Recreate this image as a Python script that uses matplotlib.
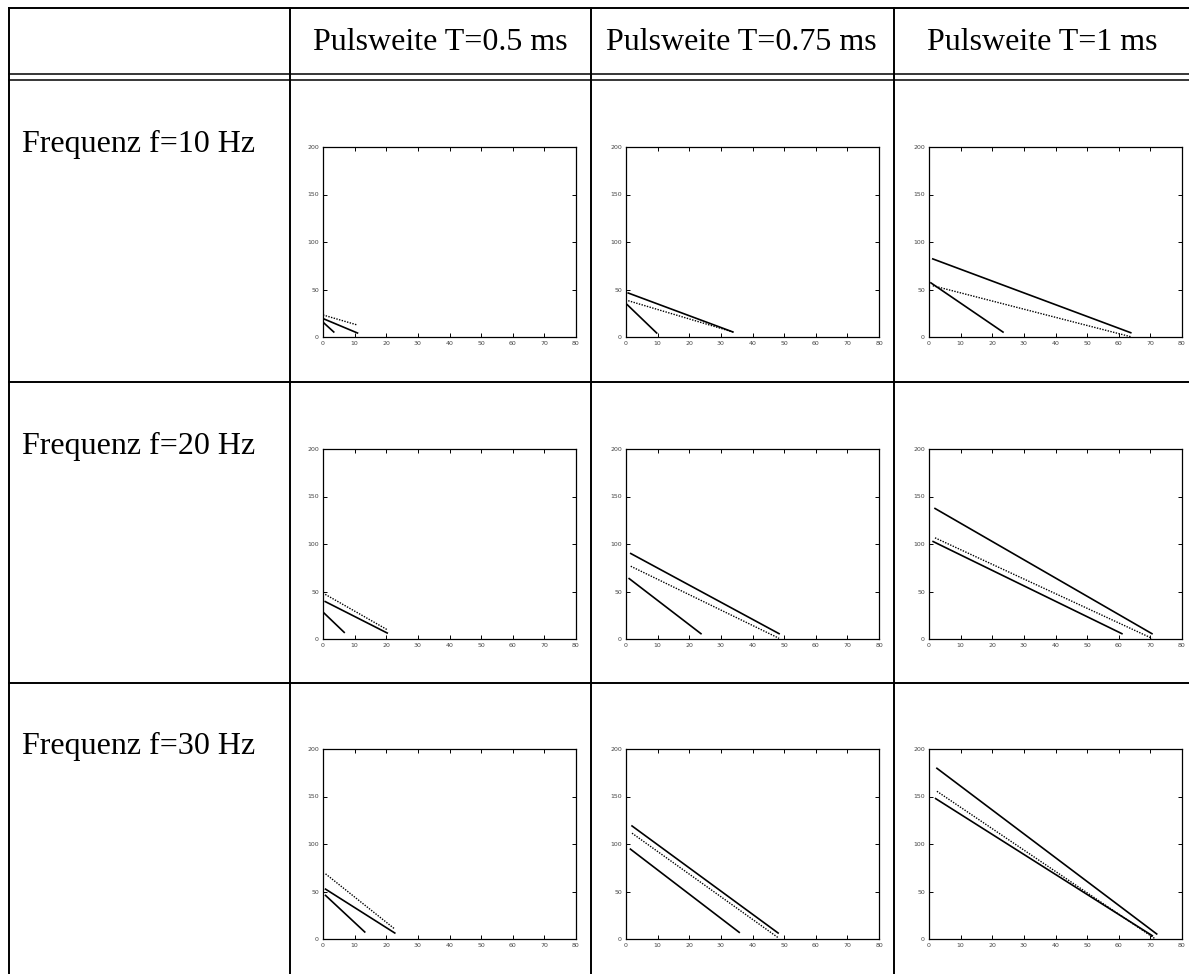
import matplotlib
matplotlib.use("Agg")
import matplotlib.pyplot as plt
from matplotlib.lines import Line2D

W, H = 1189, 974

# table headings
pulse_widths = ["Pulsweite T=0.5 ms", "Pulsweite T=0.75 ms", "Pulsweite T=1 ms"]
frequencies = ["Frequenz f=10 Hz", "Frequenz f=20 Hz", "Frequenz f=30 Hz"]

# each segment: x_start, x_end, y_start, y_end  (one per pulse width column)
f10_solid_a = [[0.3, 10.9, 19.0, 4.2], [0.7, 33.8, 46.3, 5.3], [1.2, 63.8, 82.2, 4.5]]
f10_solid_b = [[0.3, 3.4, 14.7, 5.3], [0.4, 9.7, 34.0, 4.2], [0.6, 23.4, 57.0, 5.2]]
f10_dotted = [[0.0, 10.9, 23.2, 12.6], [0.7, 33.8, 38.2, 5.3], [1.2, 63.8, 54.0, 0.3]]

f20_solid_a = [[0.7, 20.3, 39.4, 6.3], [1.5, 48.4, 90.0, 5.6], [1.9, 70.5, 137.4, 5.6]]
f20_solid_b = [[0.3, 6.7, 27.4, 7.0], [1.0, 23.7, 63.6, 5.6], [1.3, 61.0, 102.6, 5.6]]
f20_dotted = [[0.7, 20.3, 47.0, 9.8], [1.5, 48.4, 76.6, 0.7], [1.9, 70.5, 106.5, 0.7]]

f30_solid_a = [[0.8, 22.7, 52.5, 6.3], [1.9, 48.1, 119.0, 6.3], [2.5, 72.0, 179.7, 5.3]]
f30_solid_b = [[0.8, 13.2, 45.9, 7.4], [1.4, 35.8, 94.6, 7.0], [2.1, 70.6, 147.8, 3.5]]
f30_dotted = [[0.8, 22.7, 68.6, 10.5], [1.9, 48.1, 111.4, 1.4], [2.5, 71.3, 155.5, 0.7]]

rows = [
    (f10_solid_a, f10_solid_b, f10_dotted),
    (f20_solid_a, f20_solid_b, f20_dotted),
    (f30_solid_a, f30_solid_b, f30_dotted),
]

fig = plt.figure(figsize=(W / 100, H / 100), dpi=100)
serif = "Liberation Serif"


def fx(px):
    return px / W


def fy(py):
    return 1 - py / H


def hline(y, x0=9, x1=W, lw=1.4):
    fig.add_artist(Line2D([fx(x0), fx(x1)], [fy(y), fy(y)], color="black", lw=lw))


def vline(x, y0=8, y1=H, lw=1.4):
    fig.add_artist(Line2D([fx(x), fx(x)], [fy(y0), fy(y1)], color="black", lw=lw))


# table grid
for x in [9, 290, 591, 894]:
    vline(x)
hline(8)
hline(74, lw=1.1)
hline(80, lw=1.1)
hline(382)
hline(683)

# header text
col_centers = [440, 741, 1042]
for c, label in zip(col_centers, pulse_widths):
    fig.text(fx(c), fy(43), label, family=serif, fontsize=23, ha="center", va="center")

row_tops = [147, 449, 749]
for r, label in zip(row_tops, frequencies):
    fig.text(fx(22), fy(r - 3), label, family=serif, fontsize=23, ha="left", va="center")

# small plots
col_lefts = [323, 626, 929]
ax_w, ax_h = 253, 190
for top, (sa, sb, dt) in zip(row_tops, rows):
    for j, left in enumerate(col_lefts):
        ax = fig.add_axes([fx(left), fy(top + ax_h), ax_w / W, ax_h / H])
        for seg, style, lw in [(sa[j], "-", 1.2), (sb[j], "-", 1.2), (dt[j], (0, (1, 1)), 1.0)]:
            ax.plot(seg[:2], seg[2:], color="black", linestyle=style, linewidth=lw)
        ax.set_xlim(0, 80)
        ax.set_ylim(0, 200)
        ax.set_xticks(range(0, 81, 10))
        ax.set_yticks(range(0, 201, 50))
        ax.tick_params(direction="in", top=True, right=True, length=3, width=0.7,
                       labelsize=4.5, labelcolor="#444", pad=3)
        for s in ax.spines.values():
            s.set_linewidth(0.9)

fig.savefig("out.png", dpi=100)
